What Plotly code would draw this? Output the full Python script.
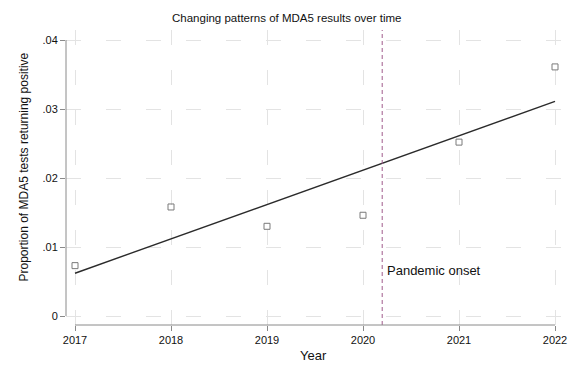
import plotly.graph_objects as go

years = [2017, 2018, 2019, 2020, 2021, 2022]
proportion_positive = [0.0073, 0.0158, 0.0130, 0.0146, 0.0252, 0.0361]
fit_years = [2017, 2022]
fit_values = [0.0062, 0.0311]
pandemic_onset = 2020.2
y_tick_vals = [0, 0.01, 0.02, 0.03, 0.04]
y_tick_text = ["0", ".01", ".02", ".03", ".04"]
x_tick_vals = [2017, 2018, 2019, 2020, 2021, 2022]

FONT = "Liberation Sans, Arial, sans-serif"
OFF = 8  # default page body margin
W, H = 576 - OFF, 384 - OFF
# target page coordinates of the plot region
RX0, RX1, RY0, RY1 = 66, 565, 30, 325   # left, right, top, bottom
# data anchors (page coords)
X2017, X2022 = 75, 555
Y0, Y04 = 316, 40

ml = RX0 - OFF
mr = W - (RX1 - OFF)
mt = RY0 - OFF
mb = H - (RY1 - OFF)
pw = W - ml - mr
ph = H - mt - mb

ppy = (X2022 - X2017) / 5.0         # pixels per year
ppv = (Y0 - Y04) / 0.04             # pixels per unit
x_range = [2017 - (X2017 - RX0) / ppy, 2022 + (RX1 - X2022) / ppy]
y_range = [0 - (RY1 - Y0) / ppv, 0.04 + (Y04 - RY0) / ppv]


def px(x):
    return (x - OFF - ml) / pw


def py(y):
    return 1 - (y - OFF - mt) / ph


fig = go.Figure()

fig.add_trace(go.Scatter(
    x=fit_years, y=fit_values, mode="lines",
    line=dict(color="#2b2b2b", width=1.4),
    hoverinfo="skip", showlegend=False))

fig.add_trace(go.Scatter(
    x=years, y=proportion_positive, mode="markers",
    marker=dict(symbol="square-open", size=6, color="#7a7a7a",
                line=dict(width=1, color="#7a7a7a")),
    showlegend=False))

# pandemic onset line
fig.add_shape(type="line", xref="x", yref="y domain",
              x0=pandemic_onset, x1=pandemic_onset, y0=0, y1=1,
              line=dict(color="#a05a8c", width=1, dash="4px,3px"))

# axis lines spanning only the tick range
fig.add_shape(type="line", xref="x", yref="y domain",
              x0=x_tick_vals[0], x1=x_tick_vals[-1], y0=0, y1=0,
              line=dict(color="#8a8a8a", width=1))
fig.add_shape(type="line", xref="x domain", yref="y",
              x0=0, x1=0, y0=y_tick_vals[0], y1=y_tick_vals[-1],
              line=dict(color="#8a8a8a", width=1))

fig.add_annotation(x=pandemic_onset, y=0.0066, xref="x", yref="y",
                   text="Pandemic onset", showarrow=False,
                   xanchor="left", yanchor="middle", xshift=3,
                   font=dict(family=FONT, size=13, color="#111111"))

# titles
fig.add_annotation(x=px(23), y=py(167.5), xref="paper", yref="paper",
                   text="Proportion of MDA5 tests returning positive",
                   textangle=-90, showarrow=False,
                   xanchor="center", yanchor="middle",
                   font=dict(family=FONT, size=12, color="#111111"))
fig.add_annotation(x=px(313), y=py(355), xref="paper", yref="paper",
                   text="Year", showarrow=False,
                   xanchor="center", yanchor="middle",
                   font=dict(family=FONT, size=13, color="#111111"))
fig.add_annotation(x=px(286.5), y=py(18), xref="paper", yref="paper",
                   text="Changing patterns of MDA5 results over time", showarrow=False,
                   xanchor="center", yanchor="middle",
                   font=dict(family=FONT, size=11.5, color="#111111"))

grid = dict(showgrid=True, gridcolor="#e3e3e3", gridwidth=1, griddash="15px,25px")

fig.update_layout(
    width=W, height=H,
    margin=dict(l=ml, r=mr, t=mt, b=mb),
    paper_bgcolor="white", plot_bgcolor="white",
    font=dict(family=FONT, color="#111111"),
    xaxis=dict(
        range=x_range, automargin=False,
        tickvals=x_tick_vals, ticktext=[str(v) for v in x_tick_vals],
        ticks="outside", ticklen=5, tickcolor="#8a8a8a",
        showline=False, zeroline=False,
        tickfont=dict(family=FONT, size=11, color="#111111"),
        **grid),
    yaxis=dict(
        range=y_range, automargin=False,
        tickvals=y_tick_vals, ticktext=y_tick_text,
        ticks="outside", ticklen=5, tickcolor="#8a8a8a",
        showline=False, zeroline=False,
        tickfont=dict(family=FONT, size=11, color="#111111"),
        **grid),
)

fig.write_html("out.html")
